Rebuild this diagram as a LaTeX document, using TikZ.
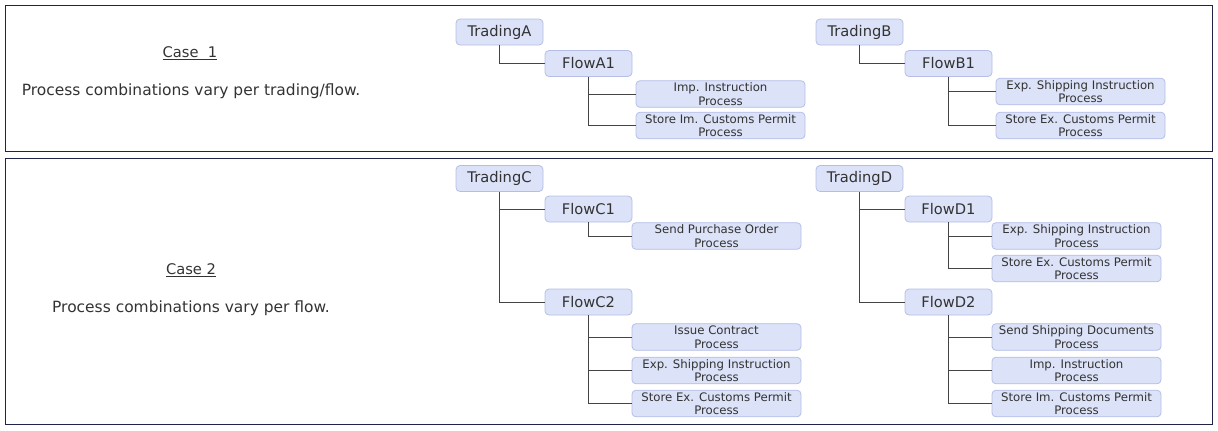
\documentclass[tikz,border=0pt]{standalone}
\usepackage{fontspec}
\setmainfont{DejaVu Sans}
\usepackage{tikz}
\usetikzlibrary{positioning}
\definecolor{frameblue}{RGB}{31,35,71}
\definecolor{boxfill}{RGB}{220,226,247}
\definecolor{boxline}{RGB}{180,190,232}
\definecolor{linkgray}{RGB}{68,68,68}
\definecolor{txtgray}{RGB}{51,51,51}
\tikzset{
  frame/.style={draw=frameblue, line width=0.75pt},
  trade/.style={draw=boxline, fill=boxfill, rounded corners=3pt, line width=0.6pt,
    minimum width=65.25pt, minimum height=19.5pt, inner sep=0pt, text=txtgray,
    font=\fontsize{11}{13}\selectfont},
  flow/.style={trade},
  proc/.style={trade, minimum width=126.75pt, minimum height=20pt, align=center,
    font=\fontsize{8.8}{10.3}\selectfont},
  link/.style={draw=linkgray, line width=0.7pt},
  caselbl/.style={text=txtgray, inner sep=0pt, font=\fontsize{11}{13}\selectfont},
  note/.style={text=txtgray, inner sep=0pt, font=\fontsize{11.6}{14}\selectfont}
}

\begin{document}
\begin{tikzpicture}[x=0.75pt,y=0.75pt,yscale=-1,xscale=1]
\useasboundingbox (0,0) rectangle (1218,430);

%Frames
\draw [frame] (5,5) rectangle (1212,151) ;
\draw [frame] (5,158) rectangle (1212,424) ;

% Text Node
\node [caselbl] (case1) at (190,53) {\underline{Case\ \ 1}};
% Text Node
\node [note] (note1) at (191,91) {Process combinations vary per trading/flow.};
% Text Node
\node [caselbl] (case2) at (191,270) {\underline{Case 2}};
% Text Node
\node [note] (note2) at (191,308) {Process combinations vary per flow.};

%Case 1, trading A
\node [trade] (tradA) at (499.5,32) {TradingA};
\node [flow] (flowA1) at (588.5,63.5) {FlowA1};
\node [proc] (impA1) at (720.5,94) {Imp. Instruction\\Process};
\node [proc] (stoA1) at (720.5,125.5) {Store Im. Customs Permit\\Process};
\draw [link] (tradA.south) |- (flowA1.west) ;
\draw [link] (flowA1.south) |- (impA1.west) ;
\draw [link] (flowA1.south) |- (stoA1.west) ;

%Case 1, trading B
\node [trade] (tradB) at (859.5,32) {TradingB};
\node [flow] (flowB1) at (948.5,63.5) {FlowB1};
\node [proc] (expB1) at (1080.5,91.5) {Exp. Shipping Instruction\\Process};
\node [proc] (stoB1) at (1080.5,125.5) {Store Ex. Customs Permit\\Process};
\draw [link] (tradB.south) |- (flowB1.west) ;
\draw [link] (flowB1.south) |- (expB1.west) ;
\draw [link] (flowB1.south) |- (stoB1.west) ;

%Case 2, trading C
\node [trade] (tradC) at (499.5,178.5) {TradingC};
\node [flow] (flowC1) at (588.5,209) {FlowC1};
\node [proc] (sndC1) at (716.5,236) {Send Purchase Order\\Process};
\node [flow] (flowC2) at (588.5,302) {FlowC2};
\node [proc] (issC2) at (716.5,337) {Issue Contract\\Process};
\node [proc] (expC2) at (716.5,370.5) {Exp. Shipping Instruction\\Process};
\node [proc] (stoC2) at (716.5,403.5) {Store Ex. Customs Permit\\Process};
\draw [link] (tradC.south) |- (flowC1.west) ;
\draw [link] (tradC.south) |- (flowC2.west) ;
\draw [link] (flowC1.south) |- (sndC1.west) ;
\draw [link] (flowC2.south) |- (issC2.west) ;
\draw [link] (flowC2.south) |- (expC2.west) ;
\draw [link] (flowC2.south) |- (stoC2.west) ;

%Case 2, trading D
\node [trade] (tradD) at (859.5,178.5) {TradingD};
\node [flow] (flowD1) at (948.5,209) {FlowD1};
\node [proc] (expD1) at (1076.5,236) {Exp. Shipping Instruction\\Process};
\node [proc] (stoD1) at (1076.5,268.5) {Store Ex. Customs Permit\\Process};
\node [flow] (flowD2) at (948.5,302) {FlowD2};
\node [proc] (sndD2) at (1076.5,337) {Send Shipping Documents\\Process};
\node [proc] (impD2) at (1076.5,370.5) {Imp. Instruction\\Process};
\node [proc] (stoD2) at (1076.5,403.5) {Store Im. Customs Permit\\Process};
\draw [link] (tradD.south) |- (flowD1.west) ;
\draw [link] (tradD.south) |- (flowD2.west) ;
\draw [link] (flowD1.south) |- (expD1.west) ;
\draw [link] (flowD1.south) |- (stoD1.west) ;
\draw [link] (flowD2.south) |- (sndD2.west) ;
\draw [link] (flowD2.south) |- (impD2.west) ;
\draw [link] (flowD2.south) |- (stoD2.west) ;

\end{tikzpicture}
\end{document}
